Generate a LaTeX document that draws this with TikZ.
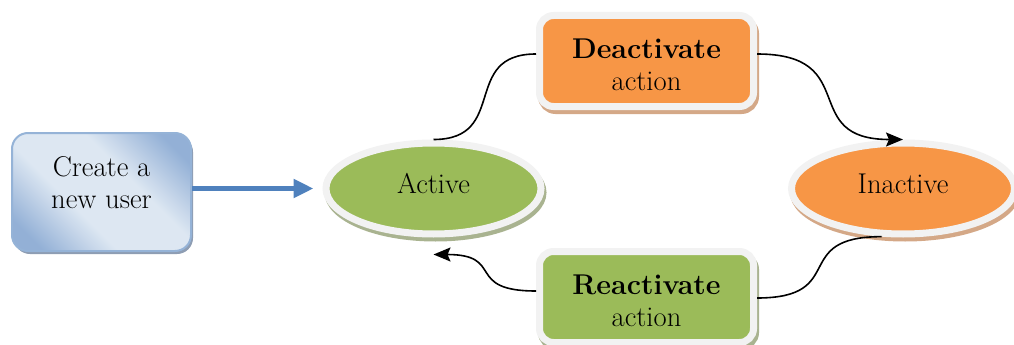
\documentclass[tikz,border=0pt]{standalone}
\usetikzlibrary{shapes.geometric,arrows.meta,shadows}
\definecolor{ringgrey}{HTML}{F2F2F2}
\definecolor{orng}{HTML}{F79646}
\definecolor{grn}{HTML}{9BBB59}
\definecolor{tanshade}{HTML}{D4A887}
\definecolor{grnshade}{HTML}{A9B390}
\definecolor{bluedark}{HTML}{93B0D6}
\definecolor{bluelight}{HTML}{DDE7F2}
\definecolor{blueedge}{HTML}{95B3D7}
\definecolor{blueshade}{HTML}{8E9DB3}
\definecolor{flowblue}{HTML}{4F81BD}
\pgfdeclareverticalshading{createshade}{100bp}{color(0bp)=(bluedark); color(22bp)=(bluedark);
  color(40bp)=(bluelight); color(60bp)=(bluelight); color(78bp)=(bluedark); color(100bp)=(bluedark)}
\newcommand{\upstrut}{\rule{0pt}{28pt}}

\begin{document}
\begin{tikzpicture}[x=1pt,y=-1pt,
  txt/.style={font=\fontsize{28.6}{32}\selectfont,align=center,inner sep=0pt},
  state/.style={txt,ellipse,draw=ringgrey,line width=7pt,minimum height=91pt,text depth=10pt},
  actbox/.style={txt,rectangle,rounded corners=14pt,draw=ringgrey,line width=7pt,
    minimum width=214pt,minimum height=91pt},
  rim/.style={drop shadow={shadow xshift=2pt,shadow yshift=-4pt,opacity=1,
    fill=#1,draw=#1,line width=7pt}},
  link/.style={black,line width=1.6pt},
  linkarrow/.style={link,-{Stealth[length=17pt,width=14pt,inset=3pt]}},
  flow/.style={flowblue,line width=5pt,-{Triangle[length=20pt,width=18pt]}}]
\useasboundingbox (0,0) rectangle (1014,345);

\node[rectangle,rounded corners=16pt,draw=blueedge,line width=2pt,
  minimum width=179pt,minimum height=118pt,shading=createshade,shading angle=-45,
  drop shadow={shadow xshift=2pt,shadow yshift=-3pt,opacity=1,fill=blueshade}]
  (create) at (101.5,192) {};
\node[txt] (createtxt) at ([yshift=9pt]create.center) {Create a\\new user};

\node[state,minimum width=215pt,fill=grn,rim=grnshade] (active) at (433.5,188.5) {Active};
\node[state,minimum width=223pt,fill=orng,rim=tanshade] (inactive) at (903,188.5) {Inactive};
\node[actbox,fill=orng,rim=tanshade] (deact) at (646.5,61) {\upstrut\textbf{Deactivate}\\action};
\node[actbox,fill=grn,rim=grnshade] (react) at (646.5,297) {\upstrut\textbf{Reactivate}\\action};

\draw[flow,shorten >=9pt] (create.east |- active.west) -- (active.west);
\draw[link] (active.north) to[out=0,in=180,looseness=1.45] ([yshift=7pt]deact.west);
\draw[linkarrow] ([yshift=7pt]deact.east) to[out=0,in=180,looseness=1.6] (inactive.north);
\draw[link] (inactive.246) to[out=180,in=0,looseness=1.7] ([yshift=-1pt]react.east);
\draw[linkarrow] ([yshift=6pt]react.west) to[out=180,in=0,looseness=1.7] ([yshift=-17pt]active.south);
\end{tikzpicture}
\end{document}
